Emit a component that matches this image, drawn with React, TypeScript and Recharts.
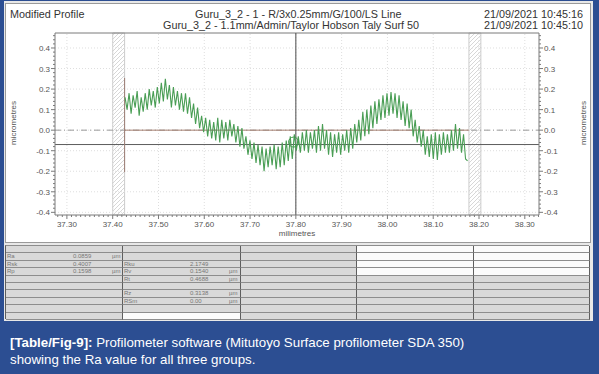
import React from "react";
import {
  ComposedChart,
  Line,
  XAxis,
  YAxis,
  ReferenceLine,
  ReferenceArea,
  ReferenceDot,
  Label,
} from "recharts";

// profile position (mm) and height (µm)
const PROFILE_START = 37.427;
const PROFILE_STEP = 0.0044;
const PROFILE_UM = [
  0.16, 0.10, 0.18, 0.08, 0.17, 0.11, 0.19, 0.07, 0.16, 0.09,
  0.18, 0.10, 0.20, 0.12, 0.19, 0.11, 0.21, 0.13, 0.23, 0.14,
  0.25, 0.15, 0.22, 0.11, 0.21, 0.12, 0.19, 0.10, 0.18, 0.09,
  0.18, 0.08, 0.16, 0.06, 0.13, 0.03, 0.11, 0.01, 0.07, -0.01,
  0.06, -0.03, 0.05, -0.04, 0.04, -0.05, 0.06, -0.06, 0.05, -0.04,
  0.04, -0.05, 0.05, -0.03, 0.03, -0.06, 0.02, -0.08, 0.01, -0.09,
  -0.03, -0.12, -0.05, -0.14, -0.06, -0.16, -0.07, -0.17, -0.08, -0.20,
  -0.09, -0.18, -0.08, -0.17, -0.07, -0.19, -0.08, -0.18, -0.06, -0.17,
  -0.05, -0.15, -0.03, -0.14, -0.02, -0.10, -0.03, -0.11, -0.01, -0.10,
  0.00, -0.11, -0.01, -0.09, 0.00, -0.11, 0.02, -0.10, 0.03, -0.09,
  0.00, -0.12, -0.01, -0.13, -0.02, -0.11, -0.01, -0.12, -0.02, -0.10,
  0.00, -0.11, 0.01, -0.09, 0.03, -0.06, 0.05, -0.05, 0.09, -0.03,
  0.10, -0.02, 0.12, 0.01, 0.14, 0.03, 0.15, 0.05, 0.17, 0.06,
  0.18, 0.07, 0.185, 0.08, 0.18, 0.06, 0.17, 0.05, 0.14, 0.02,
  0.13, 0.01, 0.10, -0.03, 0.05, -0.06, 0.02, -0.08, 0.00, -0.12,
  -0.03, -0.13, -0.02, -0.14, -0.01, -0.145, -0.02, -0.12, -0.01, -0.11,
  -0.02, -0.11, 0.00, -0.10, 0.03, -0.09, 0.01, -0.11, -0.02, -0.14,
  -0.15,
];

const X_DOMAIN = [37.274, 38.331];
const Y_DOMAIN = [-0.413, 0.473];
const X_MAJOR = [37.3, 37.4, 37.5, 37.6, 37.7, 37.8, 37.9, 38.0, 38.1, 38.2, 38.3];
const Y_MAJOR = [-0.4, -0.3, -0.2, -0.1, 0, 0.1, 0.2, 0.3, 0.4];

// excluded (hatched) zones and reference lines
const LEFT_CUTOFF = [37.4, 37.426];
const RIGHT_CUTOFF = [38.178, 38.204];
const MEAN_LINE = 0;
const LOWER_LINE = -0.07;
const CURSOR_X = 37.8;
const START_MARK = [0.254, -0.204];
const CURSOR_DOT = { x: 37.795, y: -0.058 };

const HEADER_LINE1 = "Guru_3_2 - 1 - R/3x0.25mm/G/100/LS Line";
const HEADER_LINE2 = "Guru_3_2 - 1.1mm/Admin/Taylor Hobson Taly Surf 50";
const DATE1 = "21/09/2021 10:45:16";
const DATE2 = "21/09/2021 10:45:10";

// table: [label, value, unit] for first two columns
const TABLE_COL1 = [
  ["", "", ""],
  ["Ra", "0.0859", "µm"],
  ["Rsk", "0.4007", ""],
  ["Rp", "0.1598", "µm"],
  ["", "", ""],
  ["", "", ""],
  ["", "", ""],
  ["", "", ""],
  ["", "", ""],
  ["", "", ""],
];
const TABLE_COL2 = [
  ["", "", ""],
  ["", "", ""],
  ["Rku", "2.1749", ""],
  ["Rv", "0.1540", "µm"],
  ["Rt", "0.4688", "µm"],
  ["", "", ""],
  ["Rz", "0.3138", "µm"],
  ["RSm", "0.00", "µm"],
  ["", "", ""],
  ["", "", ""],
];

const xTicks: number[] = [];
for (let k = 3728; k <= 3833; k++) xTicks.push(k / 100);
const yTicks: number[] = [];
for (let k = -20; k <= 23; k++) yTicks.push(Math.round(k * 2) / 100);

const data = PROFILE_UM.map((y, i) => ({ x: PROFILE_START + i * PROFILE_STEP, y }));

const isMajor = (v: number) => Math.round(v * 100) % 10 === 0;
const axisColor = "#7a7a7a";
const labelColor = "#555";
const font = "'Liberation Sans', Arial, sans-serif";

function XTick({ x, y, payload }: any) {
  const major = isMajor(payload.value);
  return (
    <g>
      <line x1={x} x2={x} y1={y} y2={y + (major ? 4 : 2)} stroke={axisColor} />
      {major && (
        <text x={x} y={y + 12} textAnchor="middle" fontSize={8} fill={labelColor} fontFamily={font}>
          {payload.value.toFixed(2)}
        </text>
      )}
    </g>
  );
}

function LeftTick({ x, y, payload }: any) {
  const major = isMajor(payload.value);
  return (
    <g>
      <line x1={x} x2={x - (major ? 4 : 2)} y1={y} y2={y} stroke={axisColor} />
      {major && (
        <text x={x - 5} y={y + 3} textAnchor="end" fontSize={8} fill={labelColor} fontFamily={font}>
          {payload.value.toFixed(1)}
        </text>
      )}
    </g>
  );
}

function RightTick({ x, y, payload }: any) {
  const major = isMajor(payload.value);
  return (
    <g>
      <line x1={x} x2={x + (major ? 4 : 2)} y1={y} y2={y} stroke={axisColor} />
      {major && (
        <text x={x + 5} y={y + 3} textAnchor="start" fontSize={8} fill={labelColor} fontFamily={font}>
          {payload.value.toFixed(1)}
        </text>
      )}
    </g>
  );
}

function Cell({ row, col }: { row: number; col: number }) {
  const white = (row <= 3 && col >= 3) || (row === 9 && col === 1);
  const src = col === 0 ? TABLE_COL1 : col === 1 ? TABLE_COL2 : null;
  const cell = src ? src[row] : null;
  return (
    <div
      style={{
        position: "relative",
        background: white ? "#fbfbfb" : "#d9d9d9",
        borderBottom: "1px solid #8d8d8d",
        borderRight: "1px solid #5e5e5e",
        boxSizing: "border-box",
        fontSize: 6,
        lineHeight: "6px",
        color: "#777",
        fontFamily: font,
      }}
    >
      {cell && (
        <>
          <span style={{ position: "absolute", left: 1, top: 0 }}>{cell[0]}</span>
          <span style={{ position: "absolute", left: 67, top: 0 }}>{cell[1]}</span>
          <span style={{ position: "absolute", left: 106, top: 0 }}>{cell[2]}</span>
        </>
      )}
    </div>
  );
}

const headerStyle: React.CSSProperties = {
  position: "absolute",
  fontSize: 10.8,
  color: "#333",
  lineHeight: "11px",
  whiteSpace: "nowrap",
};

export default function App() {
  const rows = Array.from({ length: 10 }, (_, r) => r);
  const cols = [0, 1, 2, 3, 4];
  return (
    <div
      style={{
        position: "absolute",
        left: 0,
        top: 0,
        width: 599,
        height: 374,
        background: "#2c4e92",
        overflow: "hidden",
        fontFamily: font,
      }}
    >
      <div style={{ position: "absolute", left: 4, top: 1, width: 589, height: 320, background: "#e8e8e8" }} />
      <div
        style={{
          position: "absolute",
          left: 5,
          top: 3,
          width: 586,
          height: 240,
          background: "#fff",
          border: "1px solid #9a9a9a",
          boxSizing: "border-box",
        }}
      />
      <div style={{ ...headerStyle, left: 10, top: 9 }}>Modified Profile</div>
      <div style={{ ...headerStyle, left: 195, top: 9 }}>{HEADER_LINE1}</div>
      <div style={{ ...headerStyle, left: 163, top: 20 }}>{HEADER_LINE2}</div>
      <div style={{ ...headerStyle, left: 484, top: 9 }}>{DATE1}</div>
      <div style={{ ...headerStyle, left: 484, top: 20 }}>{DATE2}</div>

      <div
        style={{
          position: "absolute",
          left: 13,
          top: 123,
          fontSize: 8,
          color: labelColor,
          transform: "translate(-50%, -50%) rotate(-90deg)",
          whiteSpace: "nowrap",
        }}
      >
        micrometres
      </div>
      <div
        style={{
          position: "absolute",
          left: 583,
          top: 123,
          fontSize: 8,
          color: labelColor,
          transform: "translate(-50%, -50%) rotate(-90deg)",
          whiteSpace: "nowrap",
        }}
      >
        micrometres
      </div>

      <div style={{ position: "absolute", left: 0, top: 0 }}>
        <ComposedChart width={590} height={240} data={data} margin={{ top: 33, right: 21, bottom: 0, left: 25 }}>
          <defs>
            <pattern id="hatch" patternUnits="userSpaceOnUse" width="4" height="4">
              <path d="M-1,1 l2,-2 M0,4 l4,-4 M3,5 l2,-2" stroke="#cdcdcd" strokeWidth="0.8" />
            </pattern>
          </defs>
          <XAxis
            dataKey="x"
            type="number"
            domain={X_DOMAIN}
            allowDataOverflow
            ticks={xTicks}
            interval={0}
            tick={<XTick />}
            tickLine={false}
            tickSize={0}
            tickMargin={0}
            height={25}
            stroke={axisColor}
          >
            <Label value="milimetres" position="insideBottom" offset={4} fontSize={8} fill={labelColor} />
          </XAxis>
          <YAxis
            yAxisId="left"
            type="number"
            domain={Y_DOMAIN}
            allowDataOverflow
            ticks={yTicks}
            interval={0}
            tick={<LeftTick />}
            tickLine={false}
            tickSize={0}
            tickMargin={0}
            width={30}
            stroke={axisColor}
          />
          <YAxis
            yAxisId="right"
            orientation="right"
            type="number"
            domain={Y_DOMAIN}
            allowDataOverflow
            ticks={yTicks}
            interval={0}
            tick={<RightTick />}
            tickLine={false}
            tickSize={0}
            tickMargin={0}
            width={30}
            stroke={axisColor}
          />
          {X_MAJOR.map((v) => (
            <ReferenceLine key={"gx" + v} yAxisId="left" x={v} stroke="#dedede" strokeDasharray="1 2" />
          ))}
          {Y_MAJOR.map((v) => (
            <ReferenceLine key={"gy" + v} yAxisId="left" y={v} stroke="#dedede" strokeDasharray="1 2" />
          ))}
          <ReferenceLine yAxisId="left" y={Y_DOMAIN[1]} stroke={axisColor} />
          <ReferenceArea
            yAxisId="left"
            x1={LEFT_CUTOFF[0]}
            x2={LEFT_CUTOFF[1]}
            fill="url(#hatch)"
            fillOpacity={1}
            stroke="#cccccc"
          />
          <ReferenceArea
            yAxisId="left"
            x1={RIGHT_CUTOFF[0]}
            x2={RIGHT_CUTOFF[1]}
            fill="url(#hatch)"
            fillOpacity={1}
            stroke="#cccccc"
          />
          <ReferenceLine yAxisId="left" y={MEAN_LINE} stroke="#9a9a9a" strokeDasharray="6 3 1 3" />
          <ReferenceLine
            yAxisId="left"
            segment={[
              { x: LEFT_CUTOFF[1], y: MEAN_LINE },
              { x: RIGHT_CUTOFF[0], y: MEAN_LINE },
            ]}
            stroke="#a88273"
          />
          <ReferenceLine yAxisId="left" y={LOWER_LINE} stroke="#5c5c5c" />
          <ReferenceLine yAxisId="left" x={CURSOR_X} stroke="#4a4a4a" />
          <ReferenceLine
            yAxisId="left"
            segment={[
              { x: LEFT_CUTOFF[1], y: START_MARK[0] },
              { x: LEFT_CUTOFF[1], y: START_MARK[1] },
            ]}
            stroke="#9c7d74"
          />
          <Line
            yAxisId="left"
            type="linear"
            dataKey="y"
            stroke="#4a9e55"
            strokeWidth={1.1}
            dot={false}
            isAnimationActive={false}
          />
          <ReferenceDot
            yAxisId="left"
            x={CURSOR_DOT.x}
            y={CURSOR_DOT.y}
            r={5}
            fill="none"
            stroke="#3f9a4a"
            strokeWidth={1}
          />
        </ComposedChart>
      </div>

      <div
        style={{
          position: "absolute",
          left: 5,
          top: 245,
          width: 584,
          height: 74,
          display: "grid",
          gridTemplateColumns: "117px 118px 116px 117px 116px",
          gridTemplateRows: "repeat(10, 7.4px)",
          borderLeft: "1px solid #5e5e5e",
          borderTop: "1px solid #8d8d8d",
          boxSizing: "border-box",
        }}
      >
        {rows.map((r) => cols.map((c) => <Cell key={r + "-" + c} row={r} col={c} />))}
      </div>

      <div
        style={{
          position: "absolute",
          left: 10,
          top: 334,
          fontSize: 13.3,
          lineHeight: "17px",
          color: "#fff",
          whiteSpace: "nowrap",
        }}
      >
        <b>[Table/Fig-9]:</b> Profilometer software (Mitutoyo Surface profilometer SDA 350)
        <br />
        showing the Ra value for all three groups.
      </div>
    </div>
  );
}
